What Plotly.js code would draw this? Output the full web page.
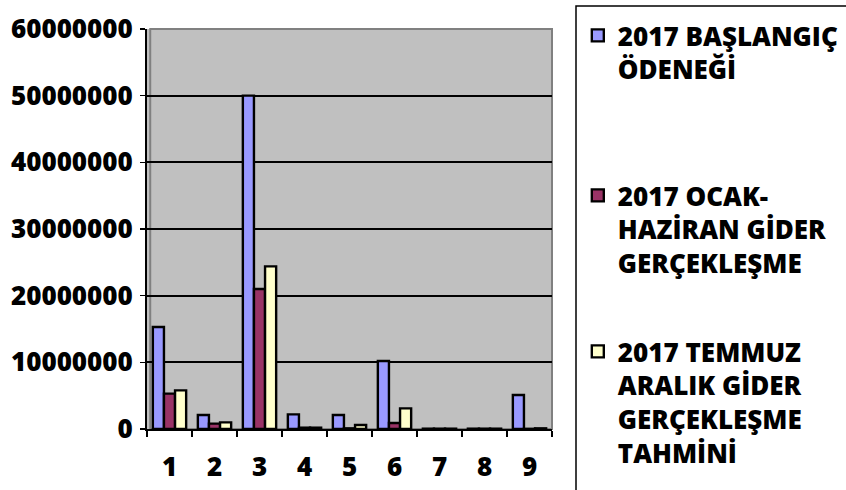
<!DOCTYPE html>
<html>
<head>
<meta charset="utf-8">
<script src="https://cdn.plot.ly/plotly-3.0.1.min.js"></script>
<style>html,body{margin:0;padding:0;background:#fff;}#chart{width:846px;height:490px;}</style>
</head>
<body>
<div id="chart"></div>
<script>
const categories = ["1", "2", "3", "4", "5", "6", "7", "8", "9"];
const seriesNames = [
  "2017 BAŞLANGIÇ<br>ÖDENEĞİ",
  "2017 OCAK-<br>HAZİRAN GİDER<br>GERÇEKLEŞME",
  "2017 TEMMUZ<br>ARALIK GİDER<br>GERÇEKLEŞME<br>TAHMİNİ"
];
const baslangic = [15300000, 2100000, 50000000, 2200000, 2100000, 10200000, 50000, 50000, 5100000];
const ocakHaziran = [5300000, 800000, 21000000, 200000, 100000, 900000, 50000, 50000, 30000];
const temmuzAralik = [5800000, 1000000, 24400000, 200000, 600000, 3100000, 50000, 50000, 100000];
const yTicks = [0, 10000000, 20000000, 30000000, 40000000, 50000000, 60000000];

const colors = ["#9999FF", "#993366", "#FFFFCC"];
const FONT = "Open Sans, Noto Sans, sans-serif";

const traces = [baslangic, ocakHaziran, temmuzAralik].map((vals, i) => ({
  type: "bar",
  x: categories,
  y: vals,
  name: seriesNames[i],
  legend: i === 0 ? "legend" : "legend" + (i + 1),
  marker: { color: colors[i], line: { color: "#000", width: 2.4 } },
  hoverinfo: "x+y+name"
}));

const legendBase = {
  xref: "container", yref: "container",
  xanchor: "left", yanchor: "top",
  bgcolor: "rgba(0,0,0,0)",
  borderwidth: 0,
  valign: "top",
  font: { family: FONT, size: 26, color: "#000", weight: 800 },
  itemwidth: 30
};

const layout = {
  width: 846, height: 490,
  margin: { l: 147, r: 294, t: 29, b: 61 },
  paper_bgcolor: "#fff",
  plot_bgcolor: "#C0C0C0",
  barmode: "group",
  bargap: 0.26,
  bargroupgap: 0,
  font: { family: FONT, color: "#000" },
  xaxis: {
    type: "category",
    tickson: "boundaries",
    ticks: "outside", ticklen: 6, tickwidth: 1.5, tickcolor: "#000",
    showline: true, linecolor: "#000", linewidth: 2,
    showgrid: false,
    tickfont: { family: FONT, size: 26, color: "#000", weight: 800 },
    ticklabelstandoff: 14
  },
  yaxis: {
    range: [0, 60000000],
    tickvals: yTicks,
    ticktext: yTicks.map(v => String(v)),
    ticks: "outside", ticklen: 5, tickwidth: 1.5, tickcolor: "#000",
    showline: true, linecolor: "#000", linewidth: 2,
    showgrid: true, gridcolor: "#000", gridwidth: 2,
    zeroline: false,
    tickfont: { family: FONT, size: 26, color: "#000", weight: 800 },
    ticklabelstandoff: 2
  },
  showlegend: true,
  legend: Object.assign({}, legendBase, { x: 0.683, y: 1 - 12 / 490 }),
  legend2: Object.assign({}, legendBase, { x: 0.683, y: 1 - 172 / 490 }),
  legend3: Object.assign({}, legendBase, { x: 0.683, y: 1 - 328 / 490 }),
  shapes: [
    { type: "rect", xref: "paper", yref: "paper", x0: 0.008, x1: 1, y0: 0, y1: 1,
      line: { color: "#808080", width: 2 }, fillcolor: "rgba(0,0,0,0)", layer: "below" },
    { type: "rect", xref: "paper", yref: "paper",
      x0: (576 - 147) / 405, x1: (900 - 147) / 405,
      y0: (429 - 520) / 400, y1: (429 - 6) / 400,
      line: { color: "#000", width: 1.5 }, fillcolor: "rgba(0,0,0,0)" }
  ]
};

Plotly.newPlot("chart", traces, layout, { displayModeBar: false, staticPlot: true });
</script>
</body>
</html>
